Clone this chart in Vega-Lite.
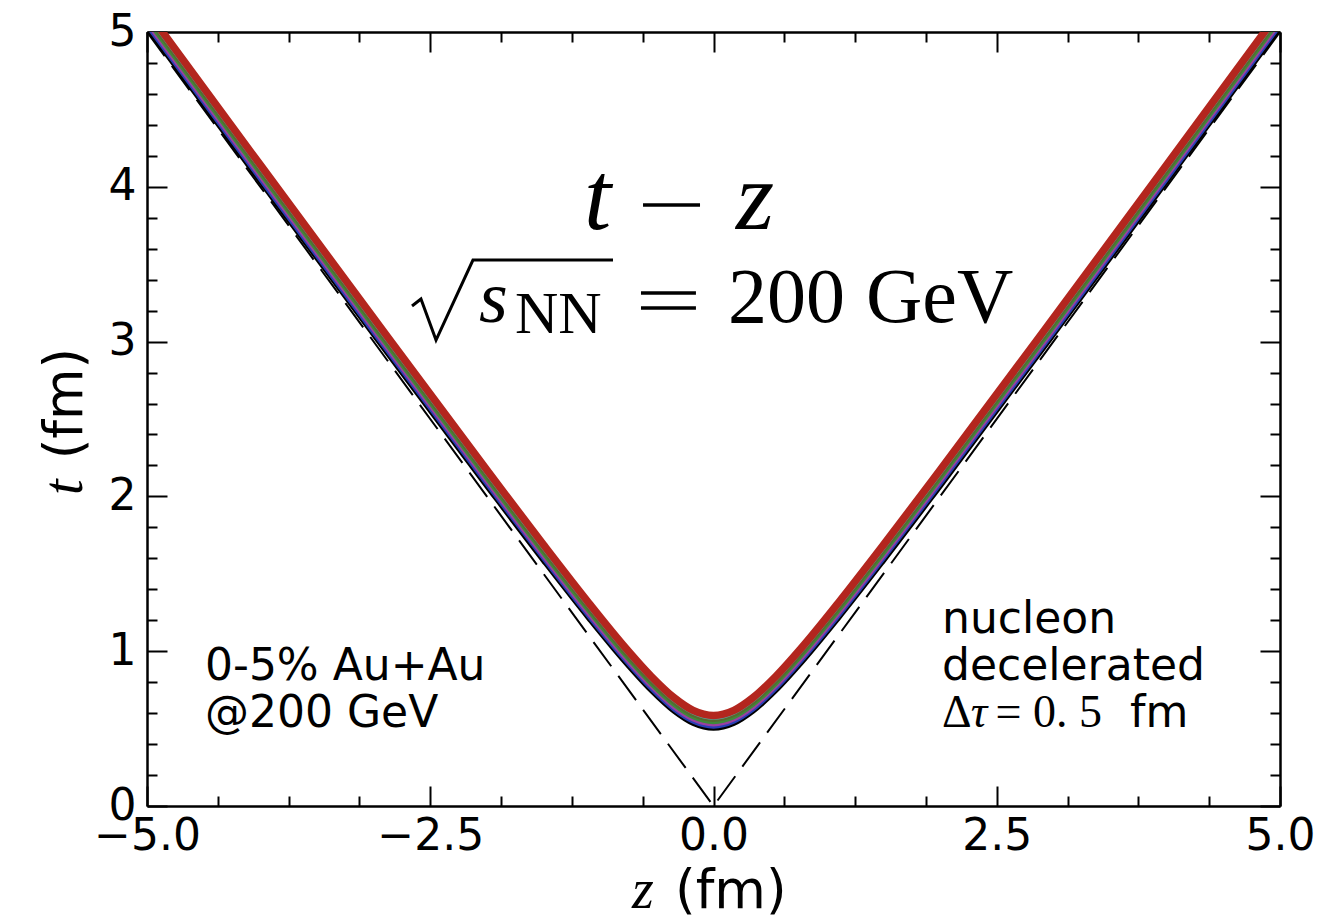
{
  "$schema": "https://vega.github.io/schema/vega-lite/v6.json",
  "width": 1133,
  "height": 774,
  "autosize": "none",
  "padding": {"left": 147, "top": 32, "right": 43, "bottom": 115},
  "background": "white",
  "config": {
    "view": {"stroke": null},
    "axis": {"grid": false, "labelFlush": false, "labelOverlap": false, "domainColor": "black", "tickColor": "black", "labelColor": "black", "domainWidth": 2.5, "tickWidth": 2}
  },
  "resolve": {"axis": {"x": "independent", "y": "independent"}},
  "datasets": {
    "dash": [{"z": -5, "t": 5}, {"z": 0, "t": 0}, {"z": 5, "t": 5}],
    "curves": [
      {"z": -5, "c0": 5.025, "c1": 5.044, "c2": 5.062, "c3": 5.081, "c4": 5.100, "c5": 5.118, "c6": 5.137},
      {"z": -4, "c0": 4.031, "c1": 4.050, "c2": 4.068, "c3": 4.087, "c4": 4.105, "c5": 4.124, "c6": 4.142},
      {"z": -3, "c0": 3.041, "c1": 3.060, "c2": 3.078, "c3": 3.097, "c4": 3.115, "c5": 3.133, "c6": 3.152},
      {"z": -2, "c0": 2.062, "c1": 2.080, "c2": 2.098, "c3": 2.116, "c4": 2.134, "c5": 2.152, "c6": 2.170},
      {"z": -1.5, "c0": 1.581, "c1": 1.599, "c2": 1.616, "c3": 1.634, "c4": 1.651, "c5": 1.669, "c6": 1.687},
      {"z": -1.1, "c0": 1.208, "c1": 1.225, "c2": 1.242, "c3": 1.260, "c4": 1.277, "c5": 1.294, "c6": 1.311},
      {"z": -0.8, "c0": 0.943, "c1": 0.960, "c2": 0.976, "c3": 0.993, "c4": 1.009, "c5": 1.026, "c6": 1.042},
      {"z": -0.55, "c0": 0.743, "c1": 0.759, "c2": 0.775, "c3": 0.791, "c4": 0.806, "c5": 0.822, "c6": 0.838},
      {"z": -0.35, "c0": 0.610, "c1": 0.625, "c2": 0.640, "c3": 0.656, "c4": 0.671, "c5": 0.686, "c6": 0.701},
      {"z": -0.18, "c0": 0.531, "c1": 0.546, "c2": 0.560, "c3": 0.575, "c4": 0.589, "c5": 0.604, "c6": 0.618},
      {"z": 0, "c0": 0.500, "c1": 0.514, "c2": 0.528, "c3": 0.543, "c4": 0.557, "c5": 0.571, "c6": 0.585},
      {"z": 0.18, "c0": 0.531, "c1": 0.546, "c2": 0.560, "c3": 0.575, "c4": 0.589, "c5": 0.604, "c6": 0.618},
      {"z": 0.35, "c0": 0.610, "c1": 0.625, "c2": 0.640, "c3": 0.656, "c4": 0.671, "c5": 0.686, "c6": 0.701},
      {"z": 0.55, "c0": 0.743, "c1": 0.759, "c2": 0.775, "c3": 0.791, "c4": 0.806, "c5": 0.822, "c6": 0.838},
      {"z": 0.8, "c0": 0.943, "c1": 0.960, "c2": 0.976, "c3": 0.993, "c4": 1.009, "c5": 1.026, "c6": 1.042},
      {"z": 1.1, "c0": 1.208, "c1": 1.225, "c2": 1.242, "c3": 1.260, "c4": 1.277, "c5": 1.294, "c6": 1.311},
      {"z": 1.5, "c0": 1.581, "c1": 1.599, "c2": 1.616, "c3": 1.634, "c4": 1.651, "c5": 1.669, "c6": 1.687},
      {"z": 2, "c0": 2.062, "c1": 2.080, "c2": 2.098, "c3": 2.116, "c4": 2.134, "c5": 2.152, "c6": 2.170},
      {"z": 3, "c0": 3.041, "c1": 3.060, "c2": 3.078, "c3": 3.097, "c4": 3.115, "c5": 3.133, "c6": 3.152},
      {"z": 4, "c0": 4.031, "c1": 4.050, "c2": 4.068, "c3": 4.087, "c4": 4.105, "c5": 4.124, "c6": 4.142},
      {"z": 5, "c0": 5.025, "c1": 5.044, "c2": 5.062, "c3": 5.081, "c4": 5.100, "c5": 5.118, "c6": 5.137}
    ]
  },
  "layer": [
    {
      "data": {"name": "dash"},
      "mark": {"type": "line", "color": "black", "strokeWidth": 2, "strokeDash": [30, 12]},
      "encoding": {
        "x": {"field": "z", "type": "quantitative", "scale": {"domain": [-5, 5], "nice": false},
          "axis": {"orient": "bottom", "values": [-5, -2.5, 0, 2.5, 5], "format": ".1f", "ticks": false, "labelFont": "DejaVu Sans", "labelFontSize": 44, "labelPadding": 8, "title": null}},
        "y": {"field": "t", "type": "quantitative", "scale": {"domain": [0, 5], "nice": false},
          "axis": {"orient": "left", "values": [0, 1, 2, 3, 4, 5], "format": "d", "ticks": false, "labelFont": "DejaVu Sans", "labelFontSize": 44, "labelPadding": 11, "title": null}}
      }
    },
    {
      "data": {"name": "curves"},
      "transform": [{"fold": ["c0", "c1", "c2", "c3", "c4", "c5", "c6"], "as": ["curve", "t"]}, {"filter": "datum.curve != 'c6'"}],
      "mark": {"type": "line", "strokeWidth": 4.5, "interpolate": "monotone", "clip": true},
      "encoding": {
        "x": {"field": "z", "type": "quantitative", "scale": {"domain": [-5, 5], "nice": false},
          "axis": {"orient": "bottom", "values": [-5, -2.5, 0, 2.5, 5], "labels": false, "domain": false, "tickSize": -20, "title": null}},
        "y": {"field": "t", "type": "quantitative", "scale": {"domain": [0, 5], "nice": false},
          "axis": {"orient": "left", "values": [0, 1, 2, 3, 4, 5], "labels": false, "domain": false, "tickSize": -20, "title": null}},
        "color": {"field": "curve", "type": "nominal", "legend": null,
          "scale": {"domain": ["c0", "c1", "c2", "c3", "c4", "c5"], "range": ["#000000", "#2a3fb5", "#9b3fa0", "#3f8a3a", "#556b2f", "#5f9ea0"]}}
      }
    },
    {
      "data": {"name": "curves"},
      "transform": [{"fold": ["c0", "c1", "c2", "c3", "c4", "c5", "c6"], "as": ["curve", "t"]}, {"filter": "datum.curve == 'c6'"}],
      "mark": {"type": "line", "strokeWidth": 7.5, "interpolate": "monotone", "clip": true, "color": "#b3261e"},
      "encoding": {
        "x": {"field": "z", "type": "quantitative", "scale": {"domain": [-5, 5], "nice": false},
          "axis": {"orient": "bottom", "values": [-4.375, -3.75, -3.125, -1.875, -1.25, -0.625, 0.625, 1.25, 1.875, 3.125, 3.75, 4.375], "labels": false, "domain": false, "tickSize": -10, "title": null}},
        "y": {"field": "t", "type": "quantitative", "scale": {"domain": [0, 5], "nice": false},
          "axis": {"orient": "left", "values": [0.2, 0.4, 0.6, 0.8, 1.2, 1.4, 1.6, 1.8, 2.2, 2.4, 2.6, 2.8, 3.2, 3.4, 3.6, 3.8, 4.2, 4.4, 4.6, 4.8], "labels": false, "domain": false, "tickSize": -10, "title": null}}
      }
    },
    {
      "data": {"name": "dash"},
      "mark": {"type": "point", "opacity": 0},
      "encoding": {
        "x": {"field": "z", "type": "quantitative", "scale": {"domain": [-5, 5], "nice": false},
          "axis": {"orient": "top", "values": [-5, -2.5, 0, 2.5, 5], "labels": false, "domain": true, "tickSize": -20, "title": null}},
        "y": {"field": "t", "type": "quantitative", "scale": {"domain": [0, 5], "nice": false},
          "axis": {"orient": "right", "values": [0, 1, 2, 3, 4, 5], "labels": false, "domain": true, "tickSize": -20, "title": null}}
      }
    },
    {
      "data": {"name": "dash"},
      "mark": {"type": "point", "opacity": 0},
      "encoding": {
        "x": {"field": "z", "type": "quantitative", "scale": {"domain": [-5, 5], "nice": false},
          "axis": {"orient": "top", "values": [-4.375, -3.75, -3.125, -1.875, -1.25, -0.625, 0.625, 1.25, 1.875, 3.125, 3.75, 4.375], "labels": false, "domain": false, "tickSize": -10, "title": null}},
        "y": {"field": "t", "type": "quantitative", "scale": {"domain": [0, 5], "nice": false},
          "axis": {"orient": "right", "values": [0.2, 0.4, 0.6, 0.8, 1.2, 1.4, 1.6, 1.8, 2.2, 2.4, 2.6, 2.8, 3.2, 3.4, 3.6, 3.8, 4.2, 4.4, 4.6, 4.8], "labels": false, "domain": false, "tickSize": -10, "title": null}}
      }
    },
    {
      "data": {"values": [{"s": "0-5% Au+Au", "x": -4.488, "y": 0.814}, {"s": "@200 GeV", "x": -4.488, "y": 0.51}, {"s": "nucleon", "x": 2.017, "y": 1.118}, {"s": "decelerated", "x": 2.017, "y": 0.814}, {"s": "fm", "x": 3.676, "y": 0.51}]},
      "mark": {"type": "text", "font": "DejaVu Sans", "fontSize": 44, "align": "left", "baseline": "alphabetic", "color": "black"},
      "encoding": {
        "x": {"field": "x", "type": "quantitative", "scale": {"domain": [-5, 5], "nice": false}, "axis": null},
        "y": {"field": "y", "type": "quantitative", "scale": {"domain": [0, 5], "nice": false}, "axis": null},
        "text": {"field": "s"}
      }
    },
    {
      "data": {"values": [{"s": "Δ", "x": 2.017, "y": 0.51}, {"s": "= 0. 5", "x": 2.49, "y": 0.51}]},
      "mark": {"type": "text", "font": "Liberation Serif", "fontSize": 46, "align": "left", "baseline": "alphabetic", "color": "black"},
      "encoding": {
        "x": {"field": "x", "type": "quantitative", "scale": {"domain": [-5, 5], "nice": false}, "axis": null},
        "y": {"field": "y", "type": "quantitative", "scale": {"domain": [0, 5], "nice": false}, "axis": null},
        "text": {"field": "s"}
      }
    },
    {
      "data": {"values": [{"s": "τ", "x": 2.27, "y": 0.51}]},
      "mark": {"type": "text", "font": "Liberation Serif", "fontStyle": "italic", "fontSize": 46, "align": "left", "baseline": "alphabetic", "color": "black"},
      "encoding": {
        "x": {"field": "x", "type": "quantitative", "scale": {"domain": [-5, 5], "nice": false}, "axis": null},
        "y": {"field": "y", "type": "quantitative", "scale": {"domain": [0, 5], "nice": false}, "axis": null},
        "text": {"field": "s"}
      }
    },
    {
      "data": {"values": [{"s": "t", "x": -1.143, "y": 3.727}, {"s": "z", "x": 0.199, "y": 3.727}]},
      "mark": {"type": "text", "font": "Liberation Serif", "fontStyle": "italic", "fontSize": 98, "align": "left", "baseline": "alphabetic", "color": "black"},
      "encoding": {
        "x": {"field": "x", "type": "quantitative", "scale": {"domain": [-5, 5], "nice": false}, "axis": null},
        "y": {"field": "y", "type": "quantitative", "scale": {"domain": [0, 5], "nice": false}, "axis": null},
        "text": {"field": "s"}
      }
    },
    {
      "data": {"values": [{"g": "minus", "x": -0.622, "y": 3.882}, {"g": "minus", "x": -0.119, "y": 3.882}, {"g": "eq1", "x": -0.64, "y": 3.314}, {"g": "eq1", "x": -0.155, "y": 3.314}, {"g": "eq2", "x": -0.64, "y": 3.217}, {"g": "eq2", "x": -0.155, "y": 3.217}]},
      "mark": {"type": "line", "color": "black", "strokeWidth": 3.5},
      "encoding": {
        "x": {"field": "x", "type": "quantitative", "scale": {"domain": [-5, 5], "nice": false}, "axis": null},
        "y": {"field": "y", "type": "quantitative", "scale": {"domain": [0, 5], "nice": false}, "axis": null},
        "detail": {"field": "g"}
      }
    },
    {
      "data": {"values": [{"i": 0, "x": -2.661, "y": 3.23}, {"i": 1, "x": -2.582, "y": 3.275}, {"i": 2, "x": -2.449, "y": 3.01}, {"i": 3, "x": -2.123, "y": 3.527}, {"i": 4, "x": -0.887, "y": 3.527}]},
      "mark": {"type": "line", "color": "black", "strokeWidth": 3},
      "encoding": {
        "x": {"field": "x", "type": "quantitative", "scale": {"domain": [-5, 5], "nice": false}, "axis": null},
        "y": {"field": "y", "type": "quantitative", "scale": {"domain": [0, 5], "nice": false}, "axis": null},
        "order": {"field": "i"}
      }
    },
    {
      "data": {"values": [{"s": "s", "x": -2.07, "y": 3.127}]},
      "mark": {"type": "text", "font": "Liberation Serif", "fontStyle": "italic", "fontSize": 74, "align": "left", "baseline": "alphabetic", "color": "black"},
      "encoding": {
        "x": {"field": "x", "type": "quantitative", "scale": {"domain": [-5, 5], "nice": false}, "axis": null},
        "y": {"field": "y", "type": "quantitative", "scale": {"domain": [0, 5], "nice": false}, "axis": null},
        "text": {"field": "s"}
      }
    },
    {
      "data": {"values": [{"s": "NN", "x": -1.752, "y": 3.056}]},
      "mark": {"type": "text", "font": "Liberation Serif", "fontSize": 60, "align": "left", "baseline": "alphabetic", "color": "black"},
      "encoding": {
        "x": {"field": "x", "type": "quantitative", "scale": {"domain": [-5, 5], "nice": false}, "axis": null},
        "y": {"field": "y", "type": "quantitative", "scale": {"domain": [0, 5], "nice": false}, "axis": null},
        "text": {"field": "s"}
      }
    },
    {
      "data": {"values": [{"s": "200", "x": 0.128, "y": 3.127}, {"s": "GeV", "x": 1.346, "y": 3.127}]},
      "mark": {"type": "text", "font": "Liberation Serif", "fontSize": 78, "align": "left", "baseline": "alphabetic", "color": "black"},
      "encoding": {
        "x": {"field": "x", "type": "quantitative", "scale": {"domain": [-5, 5], "nice": false}, "axis": null},
        "y": {"field": "y", "type": "quantitative", "scale": {"domain": [0, 5], "nice": false}, "axis": null},
        "text": {"field": "s"}
      }
    },
    {
      "data": {"values": [{"s": "z", "x": -0.719, "y": -0.659}]},
      "mark": {"type": "text", "font": "Liberation Serif", "fontStyle": "italic", "fontSize": 56, "align": "left", "baseline": "alphabetic", "color": "black"},
      "encoding": {
        "x": {"field": "x", "type": "quantitative", "scale": {"domain": [-5, 5], "nice": false}, "axis": null},
        "y": {"field": "y", "type": "quantitative", "scale": {"domain": [0, 5], "nice": false}, "axis": null},
        "text": {"field": "s"}
      }
    },
    {
      "data": {"values": [{"s": "(fm)", "x": -0.34, "y": -0.659}]},
      "mark": {"type": "text", "font": "DejaVu Sans", "fontSize": 53, "align": "left", "baseline": "alphabetic", "color": "black"},
      "encoding": {
        "x": {"field": "x", "type": "quantitative", "scale": {"domain": [-5, 5], "nice": false}, "axis": null},
        "y": {"field": "y", "type": "quantitative", "scale": {"domain": [0, 5], "nice": false}, "axis": null},
        "text": {"field": "s"}
      }
    },
    {
      "data": {"values": [{"s": "(fm)", "x": -5.574, "y": 2.6}]},
      "mark": {"type": "text", "font": "DejaVu Sans", "fontSize": 53, "align": "center", "baseline": "alphabetic", "angle": 270, "color": "black"},
      "encoding": {
        "x": {"field": "x", "type": "quantitative", "scale": {"domain": [-5, 5], "nice": false}, "axis": null},
        "y": {"field": "y", "type": "quantitative", "scale": {"domain": [0, 5], "nice": false}, "axis": null},
        "text": {"field": "s"}
      }
    },
    {
      "data": {"values": [{"s": "t", "x": -5.574, "y": 2.06}]},
      "mark": {"type": "text", "font": "Liberation Serif", "fontStyle": "italic", "fontSize": 56, "align": "center", "baseline": "alphabetic", "angle": 270, "color": "black"},
      "encoding": {
        "x": {"field": "x", "type": "quantitative", "scale": {"domain": [-5, 5], "nice": false}, "axis": null},
        "y": {"field": "y", "type": "quantitative", "scale": {"domain": [0, 5], "nice": false}, "axis": null},
        "text": {"field": "s"}
      }
    }
  ]
}
